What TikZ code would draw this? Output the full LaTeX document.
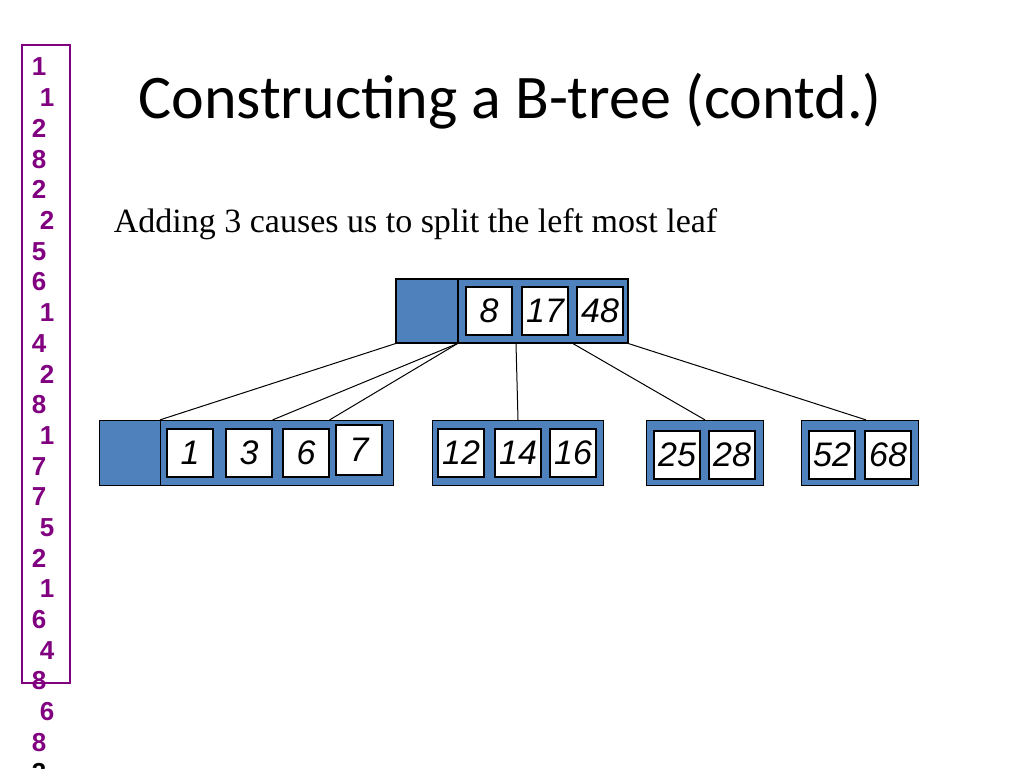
\documentclass[tikz,border=0pt]{standalone}
\usepackage{fontspec}
\setmainfont{Liberation Serif}
\newfontfamily\titlefont{Carlito}
\newfontfamily\keyfont{Liberation Sans}
\usetikzlibrary{positioning}
\definecolor{nodeblue}{RGB}{79,129,189}
\definecolor{seqpurple}{RGB}{128,0,128}
\begin{document}
\begin{tikzpicture}[x=1pt, y=-1pt, line width=1pt,
    blue box/.style={draw, fill=nodeblue, line width=1.2pt, inner sep=0pt},
    key/.style={draw, fill=white, line width=1.2pt, inner sep=0pt, minimum width=46pt, minimum height=48pt,
        font=\keyfont\itshape\fontsize{34}{34}\selectfont},
    digit/.style={text=seqpurple, font=\keyfont\bfseries\fontsize{26}{26}\selectfont, inner sep=0pt}]
            \useasboundingbox (0,0) rectangle (1024,768);

            % sequence of keys on the left
            \draw[seqpurple, line width=1.2pt] (22,45) rectangle (70,683);
            \foreach \d/\dx [count=\k from 0] in {1/0,1/1,2/0,8/0,2/0,2/1,5/0,6/0,1/1,4/0,2/1,8/0,1/1,7/0,7/0,5/1,2/0,1/1,6/0,4/1,8/0,6/1,8/0} {
                \node[digit] (s\k) at (39+8*\dx, 67+30.7*\k) {\d};
            }
            \node[digit, text=black] (s23) at (39, 773) {3};

            \node[font=\titlefont\fontsize{62}{62}\selectfont] (title) at (510,101) {Constructing a B-tree (contd.)};
            \node[font=\fontsize{34}{34}\selectfont, anchor=west] (sub) at (110,224) {Adding 3 causes us to split the left most leaf};

            % root
            \node[blue box, minimum width=62pt, minimum height=64pt] (rootp) at (427,311) {};
            \node[blue box, minimum width=170pt, minimum height=64pt] (root) at (543,311) {};
            \foreach \v/\x in {8/489,17/545,48/600} {
                \node[key] (r\v) at (\x,311) {\v};
            }

            % leaves
            \node[blue box, minimum width=61pt, minimum height=65pt] (leafp) at (130,453) {};
            \node[blue box, minimum width=233pt, minimum height=65pt] (leafA) at (277,453) {};
            \foreach \v/\x in {1/190,3/249,6/306} {
                \node[key] (k\v) at (\x,453) {\v};
            }
            \node[key, minimum height=50pt] (k7) at (359,450) {7};

            \node[blue box, minimum width=171pt, minimum height=65pt] (leafB) at (518,453) {};
            \foreach \v/\x in {12/461,14/518,16/573} {
                \node[key] (k\v) at (\x,453) {\v};
            }
            \node[blue box, minimum width=117pt, minimum height=65pt] (leafC) at (705,453) {};
            \foreach \v/\x in {25/677,28/732} {
                \node[key] (k\v) at (\x,455) {\v};
            }
            \node[blue box, minimum width=117pt, minimum height=65pt] (leafD) at (860,453) {};
            \foreach \v/\x in {52/832,68/888} {
                \node[key] (k\v) at (\x,455) {\v};
            }

            % pointers
            \draw (rootp.south west) -- (leafA.north west);
            \draw (root.south west) -- (leafA.north west -| k3.east);
            \draw (root.south west) -- (leafA.north west -| k6.east);
            \draw ([xshift=-27pt]root.south) -- (leafB.north);
            \draw ([xshift=30pt]root.south) -- (leafC.north);
            \draw (root.south east) -- ([xshift=6pt]leafD.north);
        \end{tikzpicture}
\end{document}
